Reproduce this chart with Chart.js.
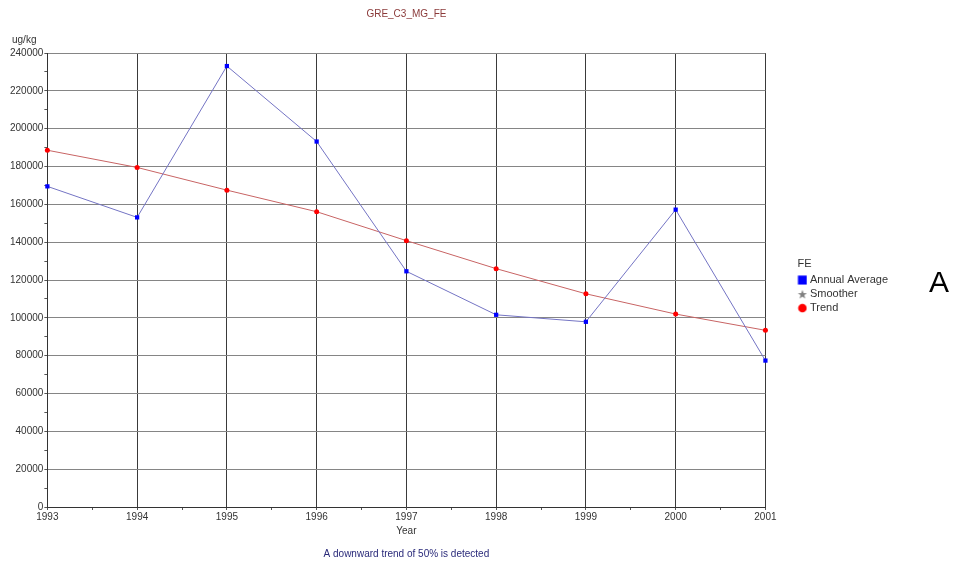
<!DOCTYPE html>
<html>
<head>
<meta charset="utf-8">
<script src="https://cdn.jsdelivr.net/npm/chart.js@4.4.0/dist/chart.umd.min.js"></script>
<style>
  body { margin: 0; background: #fff; }
  #wrap { position: relative; width: 959px; height: 567px; }
  #letter { position: absolute; left: 929px; top: 265px; font: 30px "Liberation Sans", Arial, sans-serif; color: #000; }
</style>
</head>
<body>
<div id="wrap">
  <canvas id="feChart" width="959" height="567"></canvas>
  <div id="letter">A</div>
</div>
<script>
// values (ug/kg)
const years = [1993, 1994, 1995, 1996, 1997, 1998, 1999, 2000, 2001];
const annualAverage = [169500, 153100, 233100, 193200, 124600, 101600, 97900, 157200, 77400];
const trend = [188600, 179500, 167500, 156100, 140800, 126000, 112700, 102000, 93400];
const smoother = [];   // only shown in the legend

const font = { family: '"Liberation Sans", Arial, sans-serif', size: 10, weight: 'normal' };
const legendFont = { family: '"Liberation Sans", Arial, sans-serif', size: 11, weight: 'normal' };

function pts(vals) {
    return vals.map(function(v, i) { return { x: years[i], y: v }; });
}

// small legend icons, the default circle/star are too big
function icon(kind, color) {
    const cv = document.createElement('canvas');
    cv.width = 10; cv.height = 10;
    const c = cv.getContext('2d');
    c.fillStyle = color;
    c.beginPath();
    if (kind === 'rect') {
        c.rect(0.5, 0.5, 9, 9);
    } else if (kind === 'circle') {
        c.arc(5, 5, 4.3, 0, Math.PI * 2);
    } else {
        for (let i = 0; i < 10; i++) {
            const r = i % 2 === 0 ? 4.8 : 2;
            const a = -Math.PI / 2 + i * Math.PI / 5;
            c.lineTo(5 + r * Math.cos(a), 5.5 + r * Math.sin(a));
        }
        c.closePath();
    }
    c.fill();
    return cv;
}
const legendIcons = [icon('rect', '#0000ff'), icon('star', '#808080'), icon('circle', '#ff0000')];

// "ug/kg" sits above the y axis, not rotated
const unitLabel = {
    id: 'unitLabel',
    afterDraw(chart) {
        const c = chart.ctx;
        const y = chart.scales.y;
        c.save();
        c.font = '10px "Liberation Sans", Arial, sans-serif';
        c.fillStyle = '#333';
        c.textAlign = 'left';
        c.textBaseline = 'middle';
        c.fillText('ug/kg', 12, y.top - 13);
        c.restore();
    }
};

new Chart(document.getElementById('feChart'), {
    type: 'line',
    data: {
        datasets: [{
            label: 'Annual Average',
            data: pts(annualAverage),
            borderColor: '#7474c4',
            backgroundColor: '#0000ff',
            borderWidth: 1,
            pointStyle: 'rect',
            pointRadius: 3,
            pointBorderWidth: 0,
            pointBackgroundColor: '#0000ff',
            clip: false
        }, {
            label: 'Smoother',
            data: smoother,
            borderColor: '#808080',
            backgroundColor: '#808080',
            pointStyle: 'star'
        }, {
            label: 'Trend',
            data: pts(trend),
            borderColor: '#c86464',
            backgroundColor: '#ff0000',
            borderWidth: 1,
            pointStyle: 'circle',
            pointRadius: 2.5,
            pointBorderWidth: 0,
            pointBackgroundColor: '#ff0000',
            clip: false
        }]
    },
    options: {
        responsive: false,
        animation: false,
        layout: { padding: { left: 9, right: 61, top: 0, bottom: 6 } },
        plugins: {
            title: {
                display: true,
                fullSize: false,
                text: 'GRE_C3_MG_FE',
                color: '#8b3a3a',
                font: font,
                padding: { top: 8, bottom: 33 }
            },
            subtitle: {
                display: true,
                fullSize: false,
                position: 'bottom',
                text: 'A downward trend of 50% is detected',
                color: '#2a2a7a',
                font: font,
                padding: { top: 11, bottom: 1 }
            },
            legend: {
                position: 'right',
                align: 'center',
                title: { display: true, text: 'FE', color: '#333', font: legendFont, position: 'start', padding: { top: 14, bottom: 0 } },
                labels: {
                    usePointStyle: true,
                    boxWidth: 4,
                    boxHeight: 9,
                    padding: 3,
                    color: '#333',
                    font: legendFont,
                    generateLabels: function(chart) {
                        const items = Chart.defaults.plugins.legend.labels.generateLabels(chart);
                        items.forEach(function(it, i) { it.pointStyle = legendIcons[i]; });
                        return items;
                    }
                }
            },
            tooltip: { enabled: false }
        },
        scales: {
            x: {
                type: 'linear',
                min: 1993,
                max: 2001,
                ticks: {
                    stepSize: 0.5,
                    autoSkip: false,
                    maxRotation: 0,
                    color: '#333',
                    font: font,
                    padding: 1,
                    callback: function(v) { return Number.isInteger(v) ? String(v) : ''; }
                },
                grid: {
                    color: function(ctx) { return Number.isInteger(ctx.tick.value) ? '#3a3a3a' : 'rgba(0,0,0,0)'; },
                    tickColor: '#555',
                    tickLength: 3
                },
                border: { color: '#333' },
                title: { display: true, text: 'Year', color: '#333', font: font, padding: { top: 1, bottom: 0 } }
            },
            y: {
                min: 0,
                max: 240000,
                ticks: {
                    stepSize: 10000,
                    autoSkip: false,
                    color: '#333',
                    font: font,
                    padding: 1,
                    callback: function(v) { return v % 20000 === 0 ? String(v) : ''; }
                },
                grid: {
                    color: function(ctx) { return ctx.tick.value % 20000 === 0 ? '#858585' : 'rgba(0,0,0,0)'; },
                    tickColor: '#555',
                    tickLength: 3
                },
                border: { color: '#333' }
            },
            // empty scale on the right, only keeps a gap before the legend
            gap: {
                type: 'linear',
                position: 'right',
                display: true,
                ticks: { display: false },
                grid: { display: false },
                border: { display: false },
                afterFit: function(scale) { scale.width = 32; }
            }
        }
    },
    plugins: [unitLabel]
});
</script>
</body>
</html>
